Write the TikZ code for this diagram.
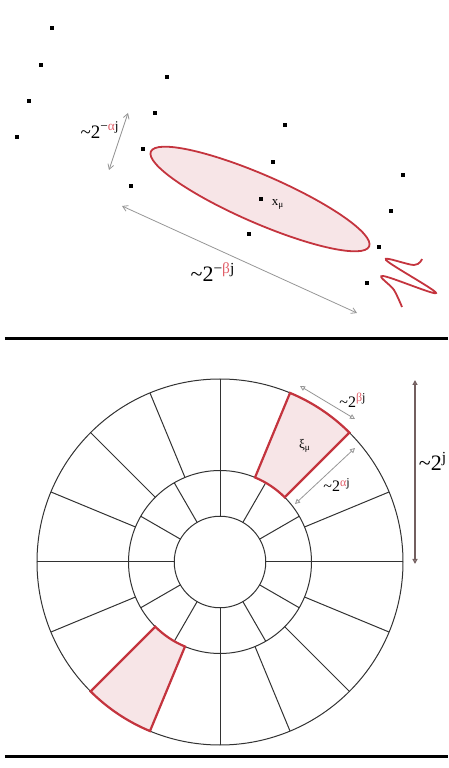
\documentclass[tikz,border=0pt]{standalone}
\usepackage{fontspec}
\setmainfont{Liberation Serif}
\usetikzlibrary{arrows.meta,positioning,calc}
\definecolor{tileedge}{RGB}{196,52,62}
\definecolor{tilefill}{RGB}{247,229,231}
\definecolor{greekred}{RGB}{225,95,105}
\definecolor{dimgray}{RGB}{150,150,150}
\definecolor{wheelline}{RGB}{50,50,50}
\definecolor{scalebar}{RGB}{115,95,95}
\newcommand{\twopow}[1]{\textasciitilde2\textsuperscript{#1}}

\begin{document}
\begin{tikzpicture}[x=0.5pt, y=0.5pt,
    samplept/.style={fill=black, inner sep=0pt, minimum size=2pt},
    tile/.style={draw=tileedge, fill=tilefill, line width=1.1pt},
    wheel/.style={draw=wheelline, line width=0.5pt},
    dimtop/.style={draw=dimgray, line width=0.4pt,
        {Straight Barb[length=2.5pt,width=3pt]}-{Straight Barb[length=2.5pt,width=3pt]}},
    dimbot/.style={draw=dimgray, line width=0.4pt,
        {Triangle[open,length=2.5pt,width=2.5pt]}-{Triangle[open,length=2.5pt,width=2.5pt]}},
    lbl/.style={inner sep=0pt, font=\fontsize{9.5}{11}\selectfont}]
    \useasboundingbox (0,0) rectangle (449,768);

    % elongated atom around x_mu
    \draw[tile, line width=0.9pt, rotate around={-23.5:(260,569)}] (260,569) ellipse[x radius=119, y radius=24];

    % sample lattice
    \node[samplept] (d11) at (52,740) {};
    \node[samplept] (d12) at (41,703) {};
    \node[samplept] (d13) at (29,667) {};
    \node[samplept] (d14) at (17,631) {};
    \node[samplept] (d21) at (167,691) {};
    \node[samplept] (d22) at (155,655) {};
    \node[samplept] (d23) at (143,619) {};
    \node[samplept] (d24) at (131,582) {};
    \node[samplept] (d31) at (285,643) {};
    \node[samplept] (d32) at (273,606) {};
    \node[samplept] (d33) at (261,569) {};
    \node[samplept] (d34) at (249,534) {};
    \node[samplept] (d41) at (403,593) {};
    \node[samplept] (d42) at (391,557) {};
    \node[samplept] (d43) at (379,521) {};
    \node[samplept] (d44) at (367,485) {};
    \node[inner sep=0pt, font=\fontsize{6.5}{7}\selectfont] (xmu) at (278,564) {x\textsubscript{μ}};

    % oscillating profile
    \draw[tileedge, line width=0.9pt] plot[smooth, tension=0.6] coordinates
        {(422,509) (414,503) (386,508) (436,475) (383,492) (394,478) (402,461)};

    % widths
    \coordinate (wa1) at (128,655);
    \coordinate (wa2) at (109,598);
    \draw[dimtop] (wa1) -- (wa2);
    \node[lbl] (wlabel) at (100,638) {\twopow{−\textcolor{greekred}{α}j}};
    \coordinate (la1) at (122,562);
    \coordinate (la2) at (357,455);
    \draw[dimtop] (la1) -- (la2);
    \node[lbl, font=\fontsize{11}{12}\selectfont] (llabel) at (213,496) {\twopow{−\textcolor{greekred}{β}j}};

    % separators
    \draw[line width=1.75pt] (5,429.5) -- (448,429.5);
    \draw[line width=1.75pt] (5,11.3) -- (448,11.3);

    % frequency tiling
    \coordinate (o) at (220,206);
    \draw[wheel] (o) circle[radius=45.75] (o) circle[radius=91.5] (o) circle[radius=183];
    \foreach \a in {0,90,180,270}
        \draw[wheel] ($(o)+(\a:45.75)$) -- ($(o)+(\a:183)$);
    \foreach \a in {30,60,120,150,210,240,300,330}
        \draw[wheel] ($(o)+(\a:45.75)$) -- ($(o)+(\a:91.5)$);
    \foreach \a in {22.5,45,67.5,112.5,135,157.5,202.5,225,247.5,292.5,315,337.5}
        \draw[wheel] ($(o)+(\a:91.5)$) -- ($(o)+(\a:183)$);

    \draw[tile] ($(o)+(45:91.5)$) -- ($(o)+(45:183)$) arc[start angle=45, end angle=67.5, radius=183]
        -- ($(o)+(67.5:91.5)$) arc[start angle=67.5, end angle=45, radius=91.5] -- cycle;
    \draw[tile] ($(o)+(225:91.5)$) -- ($(o)+(225:183)$) arc[start angle=225, end angle=247.5, radius=183]
        -- ($(o)+(247.5:91.5)$) arc[start angle=247.5, end angle=225, radius=91.5] -- cycle;
    \node[inner sep=0pt, font=\fontsize{6.5}{7}\selectfont] (ximu) at (305,322) {ξ\textsubscript{μ}};

    % scales
    \coordinate (ba1) at (300,382);
    \coordinate (ba2) at (355,349);
    \draw[dimbot] (ba1) -- (ba2);
    \node[lbl, font=\fontsize{8}{9}\selectfont] (blabel) at (353,368) {\twopow{\textcolor{greekred}{β}j}};
    \coordinate (aa1) at (355,320);
    \coordinate (aa2) at (295,264);
    \draw[dimbot] (aa1) -- (aa2);
    \node[lbl, font=\fontsize{8}{9}\selectfont] (alabel) at (337,283) {\twopow{\textcolor{greekred}{α}j}};
    \coordinate (ja1) at (415,388);
    \coordinate (ja2) at (415,204);
    \draw[dimbot, draw=scalebar, line width=0.8pt] (ja1) -- (ja2);
    \node[lbl, font=\fontsize{11}{12}\selectfont] (jlabel) at (433,307) {\twopow{j}};
\end{tikzpicture}
\end{document}
